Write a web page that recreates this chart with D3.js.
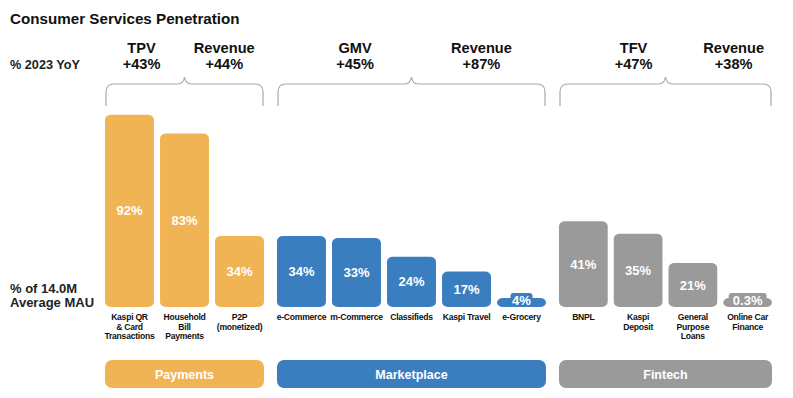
<!DOCTYPE html>
<script src="https://d3js.org/d3.v7.min.js"></script>

<style>
body {margin: 0; background: white;}
text {font-family: Arial, "Liberation Sans", sans-serif; font-weight: bold;}
.bracket {fill: none; stroke: #a9a9a9; stroke-width: 1.2;}
</style>

<svg width="793" height="398"></svg>

<script>
// data
var groups = ["Payments", "Marketplace", "Fintech"];
var paymentsCats = ["Kaspi QR\n& Card\nTransactions", "Household\nBill\nPayments", "P2P\n(monetized)"];
var paymentsVals = [92, 83, 34];
var marketCats = ["e-Commerce", "m-Commerce", "Classifieds", "Kaspi Travel", "e-Grocery"];
var marketVals = [34, 33, 24, 17, 4];
var fintechCats = ["BNPL", "Kaspi\nDeposit", "General\nPurpose\nLoans", "Online Car\nFinance"];
var fintechVals = [41, 35, 21, 0.3];
var headerMetrics = [["TPV", "Revenue"], ["GMV", "Revenue"], ["TFV", "Revenue"]];
var headerGrowth = [["+43%", "+44%"], ["+45%", "+87%"], ["+47%", "+38%"]];

var colors = ["#f1b455", "#3a7ec0", "#9a9a9a"];
var ranges = [[105, 264], [277, 546], [559, 772]];
var headerPos = [[0.23, 0.75], [0.29, 0.76], [0.35, 0.82]];

var svg = d3.select("svg");
var baseY = 307;
var y = d3.scaleLinear().domain([0, 100]).range([baseY, baseY - 209]);

svg.append("text").attr("x", 10).attr("y", 24).attr("font-size", 15.2)
    .attr("fill", "#111").text("Consumer Services Penetration");
svg.append("text").attr("x", 10).attr("y", 69).attr("font-size", 12.7)
    .attr("fill", "#222").text("% 2023 YoY");
svg.append("text").attr("x", 10).attr("y", 293).attr("font-size", 13)
    .attr("fill", "#222").text("% of 14.0M");
svg.append("text").attr("x", 10).attr("y", 307).attr("font-size", 13)
    .attr("fill", "#222").text("Average MAU");

var data = [[paymentsCats, paymentsVals], [marketCats, marketVals], [fintechCats, fintechVals]];

data.forEach(function(d, gi) {
    var cats = d[0], vals = d[1];
    var r = ranges[gi];
    var x = d3.scaleBand().domain(cats).range(r).paddingInner(0.11).paddingOuter(0);
    var col = colors[gi];
    var g = svg.append("g");

    // bracket
    var x0 = r[0] + 1, x1 = r[1] - 1, xc = (x0 + x1) / 2, yt = 84, yb = 106;
    g.append("path").attr("class", "bracket")
        .attr("d", "M" + x0 + "," + yb + " L" + x0 + "," + (yt + 8) +
            " Q" + x0 + "," + yt + " " + (x0 + 8) + "," + yt +
            " L" + (xc - 7) + "," + yt +
            " Q" + (xc - 1) + "," + yt + " " + xc + "," + (yt - 7) +
            " Q" + (xc + 1) + "," + yt + " " + (xc + 7) + "," + yt +
            " L" + (x1 - 8) + "," + yt +
            " Q" + x1 + "," + yt + " " + x1 + "," + (yt + 8) +
            " L" + x1 + "," + yb);

    // header
    headerMetrics[gi].forEach(function(m, i) {
        var hx = r[0] + (r[1] - r[0]) * headerPos[gi][i];
        g.append("text").attr("x", hx).attr("y", 53).attr("text-anchor", "middle")
            .attr("font-size", 14.6).attr("fill", "#111").text(m);
        g.append("text").attr("x", hx).attr("y", 69).attr("text-anchor", "middle")
            .attr("font-size", 14.6).attr("fill", "#111").text(headerGrowth[gi][i]);
    });

    // bars
    cats.forEach(function(c, i) {
        var v = vals[i];
        var top = Math.min(y(v), baseY - 9);
        var bx = x(c), bw = x.bandwidth();
        g.append("rect").attr("x", bx).attr("y", top).attr("width", bw)
            .attr("height", baseY - top).attr("rx", 6).attr("ry", 5).attr("fill", col);
        var ly = (top + baseY) / 2 + 4.5;
        var lbl = v < 1 ? v.toFixed(1) + "%" : v + "%";
        if (baseY - top < 20) {
            var tw = lbl.length * 8 + 6;
            g.append("rect").attr("x", bx + bw / 2 - tw / 2).attr("y", 293)
                .attr("width", tw).attr("height", 12).attr("rx", 3).attr("fill", col);
            ly = 304.5;
        }
        g.append("text").attr("x", bx + bw / 2).attr("y", ly).attr("text-anchor", "middle")
            .attr("font-size", 13).attr("fill", "white").text(lbl);

        c.split("\n").forEach(function(line, li) {
            g.append("text").attr("x", bx + bw / 2).attr("y", 320 + li * 9.7)
                .attr("text-anchor", "middle").attr("font-size", 8.6)
                .attr("letter-spacing", -0.25)
                .attr("fill", "#111").text(line);
        });
    });

    // group box
    g.append("rect").attr("x", r[0]).attr("y", 360).attr("width", r[1] - r[0])
        .attr("height", 28).attr("rx", 7).attr("fill", col);
    g.append("text").attr("x", (r[0] + r[1]) / 2).attr("y", 378.5).attr("text-anchor", "middle")
        .attr("font-size", 12.5).attr("fill", "white").text(groups[gi]);
});
</script>
